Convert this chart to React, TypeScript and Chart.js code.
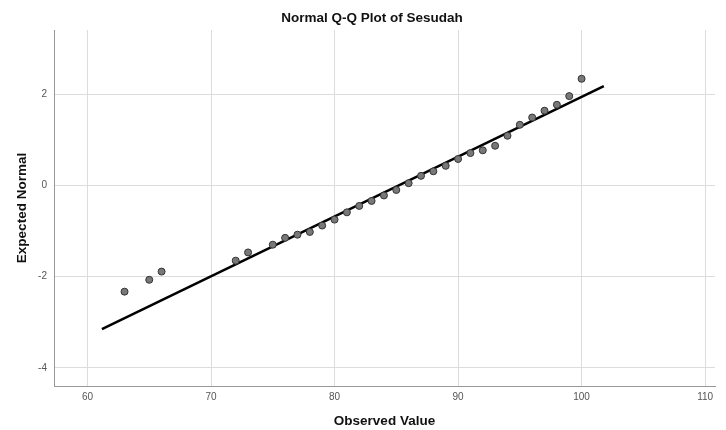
import React, { useEffect, useRef } from "react";
import { Chart, registerables } from "chart.js";

Chart.register(...registerables);

const observed = [63, 65, 66, 72, 73, 75, 76, 77, 78, 79, 80, 81, 82, 83, 84, 85, 86, 87, 88, 89, 90, 91, 92, 93, 94, 95, 96, 97, 98, 99, 100];
const expected = [-2.33, -2.07, -1.89, -1.65, -1.47, -1.3, -1.15, -1.08, -1.02, -0.88, -0.75, -0.59, -0.45, -0.34, -0.22, -0.1, 0.05, 0.21, 0.31, 0.43, 0.58, 0.71, 0.77, 0.87, 1.09, 1.33, 1.49, 1.64, 1.77, 1.96, 2.34];
const lineX = [61.17, 101.8];
const lineY = [-3.15, 2.18];
const xTicks = [60, 70, 80, 90, 100, 110];
const yTicks = [-4, -2, 0, 2];
const TITLE = "Normal Q-Q Plot of Sesudah";

const FONT = "'Liberation Sans', Arial, sans-serif";

const titlePlugin = {
  id: "customTitle",
  afterDraw(chart: any) {
    const ctx = chart.ctx;
    ctx.save();
    ctx.font = `bold 13.5px ${FONT}`;
    ctx.fillStyle = "#111";
    ctx.textAlign = "center";
    ctx.textBaseline = "middle";
    ctx.fillText(TITLE, chart.width / 2 + 9, 18);
    ctx.restore();
  },
};

export default function App() {
  const ref = useRef<HTMLCanvasElement | null>(null);
  useEffect(() => {
    document.body.style.margin = "0";
    const canvas = ref.current;
    if (!canvas) return;
    const chart = new Chart(canvas, {
      type: "scatter",
      data: {
        datasets: [
          {
            label: "fit",
            data: lineX.map((x, i) => ({ x, y: lineY[i] })),
            showLine: true,
            borderColor: "#000",
            borderWidth: 2.5,
            pointRadius: 0,
            order: 2,
          },
          {
            label: "points",
            data: observed.map((x, i) => ({ x, y: expected[i] })),
            backgroundColor: "#787878",
            borderColor: "#333",
            borderWidth: 1,
            pointRadius: 3.5,
            order: 1,
          },
        ],
      },
      plugins: [titlePlugin],
      options: {
        responsive: false,
        animation: false,
        layout: { padding: { right: 11, top: 30, left: 0, bottom: 0 } },
        plugins: {
          legend: { display: false },
          tooltip: { enabled: false },
          title: { display: false },
        },
        scales: {
          x: {
            type: "linear",
            min: 57.29,
            max: 110.8,
            afterBuildTicks: (s: any) => {
              s.ticks = xTicks.map((v) => ({ value: v }));
            },
            afterFit: (s: any) => {
              s.height = 44;
            },
            ticks: {
              color: "#555",
              font: { family: FONT, size: 10 },
              padding: 5,
            },
            grid: { color: "#dcdcdc", lineWidth: 1, drawTicks: false },
            border: { display: true, color: "#999", width: 1 },
            title: {
              display: true,
              text: "Observed Value",
              color: "#111",
              font: { family: FONT, size: 13.5, weight: "bold" },
              padding: { top: 0, bottom: 1 },
            },
          },
          y: {
            type: "linear",
            min: -4.4,
            max: 3.41,
            afterBuildTicks: (s: any) => {
              s.ticks = yTicks.map((v) => ({ value: v }));
            },
            afterFit: (s: any) => {
              s.width = 54;
            },
            ticks: {
              color: "#555",
              font: { family: FONT, size: 10 },
              padding: 7,
            },
            grid: { color: "#dcdcdc", lineWidth: 1, drawTicks: false },
            border: { display: true, color: "#999", width: 1 },
            title: {
              display: true,
              text: "Expected Normal",
              color: "#111",
              font: { family: FONT, size: 13.5, weight: "bold" },
              padding: { top: 14, bottom: 0 },
            },
          },
        },
      },
    });
    return () => chart.destroy();
  }, []);
  return <canvas ref={ref} width={726} height={430} />;
}
